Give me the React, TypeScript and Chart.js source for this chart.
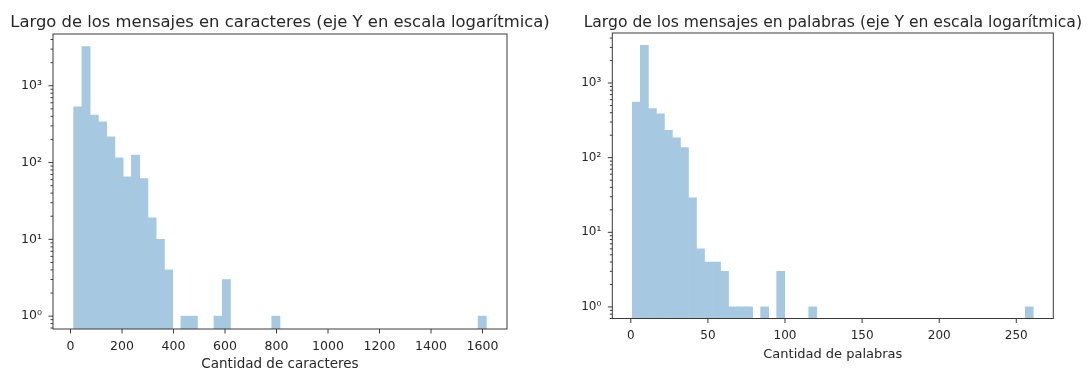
import React, { useEffect, useRef } from "react";
import { Chart, registerables } from "chart.js";

Chart.register(...registerables);

// Histogram settings: 50 equal-width bins between the shortest and longest message
const BIN_COUNT = 50;

// Message length in characters
const charRange = [12, 1615];
const charCounts = [
  532, 3228, 414, 339, 216, 115, 65, 125, 62, 19,
  10, 4, 0, 1, 1, 0, 0, 1, 3, 0,
  0, 0, 0, 0, 1, 0, 0, 0, 0, 0,
  0, 0, 0, 0, 0, 0, 0, 0, 0, 0,
  0, 0, 0, 0, 0, 0, 0, 0, 0, 1,
];
const charXTicks = [0, 200, 400, 600, 800, 1000, 1200, 1400, 1600];
const charYLimits = [0.68, 4720];

// Message length in words
const wordRange = [1, 261];
const wordCounts = [
  557, 3194, 453, 388, 232, 185, 136, 29, 6, 4,
  4, 3, 1, 1, 1, 0, 1, 0, 3, 0,
  0, 0, 1, 0, 0, 0, 0, 0, 0, 0,
  0, 0, 0, 0, 0, 0, 0, 0, 0, 0,
  0, 0, 0, 0, 0, 0, 0, 0, 0, 1,
];
const wordXTicks = [0, 50, 100, 150, 200, 250];
const wordYLimits = [0.7, 4680];

const yDecades = [1, 10, 100, 1000];

const charTitle = "Largo de los mensajes en caracteres (eje Y en escala logarítmica)";
const charXLabel = "Cantidad de caracteres";
const wordTitle = "Largo de los mensajes en palabras (eje Y en escala logarítmica)";
const wordXLabel = "Cantidad de palabras";

const FONT = "'DejaVu Sans', 'Liberation Sans', sans-serif";
const TEXT = "#262626";
const SPINE = "#3a3a3a";
// steelblue at 40% opacity over white, kept opaque so adjoining bars do not darken at their seams
const BAR = "rgb(166, 201, 225)";
const HEIGHT = 371;

const SUP: Record<string, string> = {
  "0": "⁰", "1": "¹", "2": "²", "3": "³", "4": "⁴",
  "5": "⁵", "6": "⁶", "7": "⁷", "8": "⁸", "9": "⁹", "-": "⁻",
};

function powerLabel(v: number): string {
  const e = Math.round(Math.log10(v));
  return "10" + String(e).split("").map((c) => SUP[c] ?? c).join("");
}

type Panel = {
  left: number;
  width: number;
  plot: { left: number; top: number; right: number; bottom: number };
  title: string;
  titleSize: number;
  titleBaseline: number;
  xLabel: string;
  xLabelSize: number;
  xLabelBaseline: number;
  tickSize: number;
  range: number[];
  counts: number[];
  xTicks: number[];
  yLimits: number[];
};

// The left canvas is wider than its half so its long title is not clipped;
// canvases are transparent, so the overlap is harmless.
const panels: Panel[] = [
  {
    left: 0,
    width: 570,
    plot: { left: 53, top: 34, right: 507, bottom: 329 },
    title: charTitle,
    titleSize: 16.4,
    titleBaseline: 26.5,
    xLabel: charXLabel,
    xLabelSize: 13.5,
    xLabelBaseline: 367.5,
    tickSize: 12.5,
    range: charRange,
    counts: charCounts,
    xTicks: charXTicks,
    yLimits: charYLimits,
  },
  {
    left: 545,
    width: 546,
    plot: { left: 67.3, top: 33, right: 508.3, bottom: 318.5 },
    title: wordTitle,
    titleSize: 15.6,
    titleBaseline: 26.5,
    xLabel: wordXLabel,
    xLabelSize: 13,
    xLabelBaseline: 357.5,
    tickSize: 12,
    range: wordRange,
    counts: wordCounts,
    xTicks: wordXTicks,
    yLimits: wordYLimits,
  },
];

function buildChart(canvas: HTMLCanvasElement, p: Panel): Chart {
  const [lo, hi] = p.range;
  const binWidth = (hi - lo) / BIN_COUNT;
  const span = hi - lo;
  const data = p.counts.map((c, i) => ({
    x: lo + (i + 0.5) * binWidth,
    y: c > 0 ? c : null,
  }));

  // spines, tick marks and text drawn around the plot area
  const frame = {
    id: "frame",
    afterDraw(chart: Chart) {
      const { ctx, chartArea: a } = chart;
      const xs: any = chart.scales.x;
      const ys: any = chart.scales.y;
      ctx.save();
      ctx.strokeStyle = SPINE;
      ctx.lineWidth = 1;
      ctx.strokeRect(a.left, a.top, a.right - a.left, a.bottom - a.top);

      // x tick marks
      ctx.beginPath();
      for (const v of p.xTicks) {
        const px = xs.getPixelForValue(v);
        ctx.moveTo(px, a.bottom);
        ctx.lineTo(px, a.bottom + 4.5);
      }
      ctx.stroke();

      // y major and minor tick marks (log scale)
      const [ymin, ymax] = p.yLimits;
      ctx.beginPath();
      for (let k = Math.floor(Math.log10(ymin)); k <= Math.ceil(Math.log10(ymax)); k++) {
        for (let m = 1; m <= 9; m++) {
          const v = m * Math.pow(10, k);
          if (v < ymin || v > ymax) continue;
          const py = ys.getPixelForValue(v);
          const len = m === 1 ? 4.5 : 2.5;
          ctx.moveTo(a.left, py);
          ctx.lineTo(a.left - len, py);
        }
      }
      ctx.stroke();

      const cx = (a.left + a.right) / 2;
      ctx.fillStyle = TEXT;
      ctx.textAlign = "center";
      ctx.textBaseline = "alphabetic";
      ctx.font = `${p.titleSize}px ${FONT}`;
      ctx.fillText(p.title, cx, p.titleBaseline);
      ctx.font = `${p.xLabelSize}px ${FONT}`;
      ctx.fillText(p.xLabel, cx, p.xLabelBaseline);
      ctx.restore();
    },
  };

  return new Chart(canvas, {
    type: "bar",
    data: {
      datasets: [
        {
          data: data as any,
          backgroundColor: BAR,
          borderWidth: 0,
          barPercentage: 1,
          categoryPercentage: 1,
        },
      ],
    },
    options: {
      animation: false,
      responsive: false,
      events: [],
      layout: {
        padding: {
          left: 0,
          top: p.plot.top,
          right: p.width - p.plot.right,
          bottom: 0,
        },
      },
      plugins: {
        legend: { display: false },
        tooltip: { enabled: false },
        title: { display: false },
      },
      scales: {
        x: {
          type: "linear",
          offset: false,
          min: lo - 0.05 * span,
          max: hi + 0.05 * span,
          grid: { display: false, offset: false },
          border: { display: false },
          ticks: {
            autoSkip: false,
            maxRotation: 0,
            padding: 2,
            color: TEXT,
            font: { family: FONT, size: p.tickSize },
            callback: (v: any) => String(v),
          },
          afterBuildTicks: (s: any) => {
            s.ticks = p.xTicks.map((v) => ({ value: v }));
          },
          afterFit: (s: any) => {
            s.height = HEIGHT - p.plot.bottom;
          },
        },
        y: {
          type: "logarithmic",
          min: p.yLimits[0],
          max: p.yLimits[1],
          grid: { display: false },
          border: { display: false },
          ticks: {
            autoSkip: false,
            padding: 3,
            color: TEXT,
            font: { family: FONT, size: p.tickSize },
            callback: (v: any) => powerLabel(Number(v)),
          },
          afterBuildTicks: (s: any) => {
            s.ticks = yDecades.map((v) => ({ value: v, major: true }));
          },
          afterFit: (s: any) => {
            s.width = p.plot.left;
          },
        },
      },
    },
    plugins: [frame],
  });
}

function HistPanel({ panel }: { panel: Panel }) {
  const ref = useRef<HTMLCanvasElement | null>(null);
  useEffect(() => {
    if (!ref.current) return;
    const chart = buildChart(ref.current, panel);
    return () => chart.destroy();
  }, [panel]);
  return (
    <canvas
      ref={ref}
      width={panel.width}
      height={HEIGHT}
      style={{ position: "absolute", left: panel.left, top: 0, width: panel.width, height: HEIGHT }}
    />
  );
}

export default function App() {
  return (
    <div
      style={{
        position: "fixed",
        left: 0,
        top: 0,
        width: 1091,
        height: HEIGHT,
        background: "#ffffff",
        overflow: "hidden",
      }}
    >
      {panels.map((p, i) => (
        <HistPanel key={i} panel={p} />
      ))}
    </div>
  );
}
